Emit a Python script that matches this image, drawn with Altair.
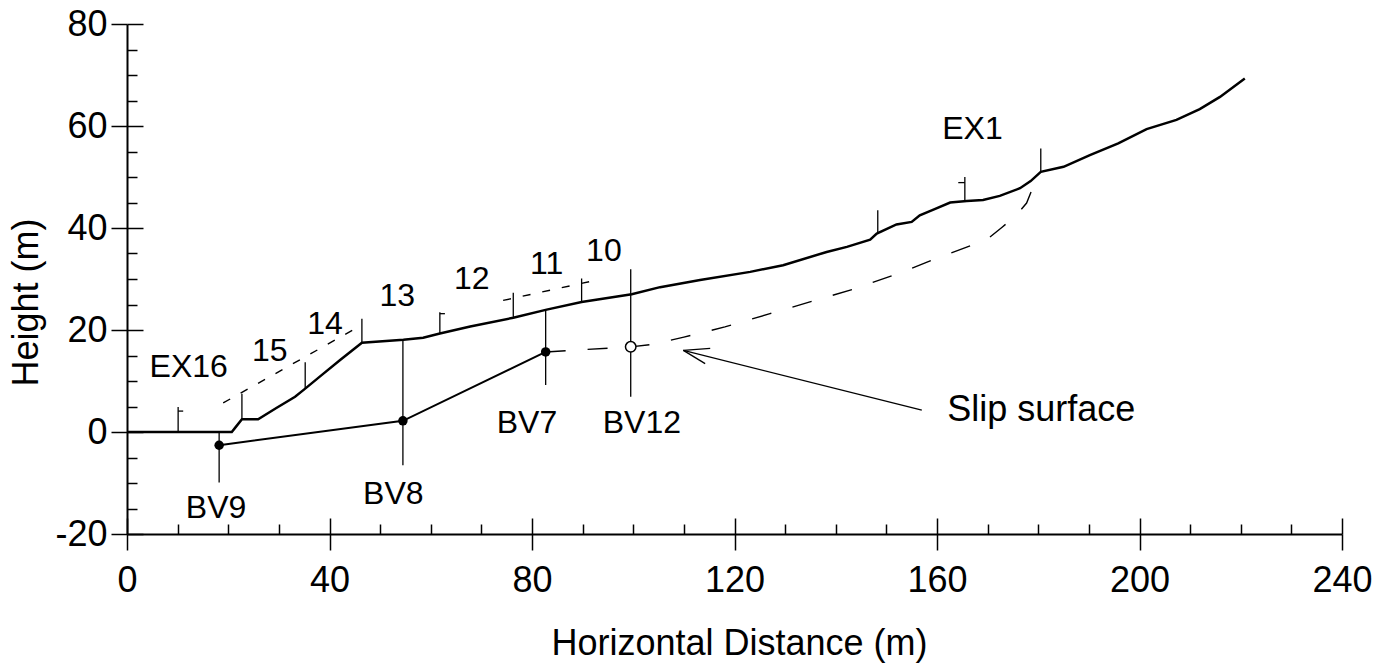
import altair as alt
import pandas as pd

FONT = "Liberation Sans"

# ---------------- data ----------------
ground_x = [0, 20.7, 21.5, 22.7, 25.9, 29.5, 33.2, 35.2, 38.5, 42.1, 46.4, 54.6, 58.5, 61.8,
            67.8, 76.3, 82.9, 89.8, 99.7, 105.3, 113.2, 123.1, 129.6, 138.2, 142.2, 146.8,
            148.1, 152.0, 155.0, 156.6, 159.3, 162.6, 165.9, 169.1, 172.4, 176.4, 178.5,
            180.5, 185.0, 190.2, 195.8, 201.4, 207.3, 211.9, 215.9, 220.8]
ground_y = [0, 0, 1.0, 2.5, 2.5, 4.7, 6.9, 8.5, 11.2, 14.1, 17.5, 18.1, 18.5, 19.3,
            20.7, 22.4, 24.0, 25.5, 27.0, 28.4, 29.8, 31.4, 32.7, 35.3, 36.3, 37.7,
            38.9, 40.7, 41.2, 42.5, 43.6, 45.0, 45.3, 45.5, 46.3, 47.8, 49.2,
            51.0, 52.0, 54.3, 56.6, 59.4, 61.2, 63.3, 65.7, 69.3]

orig_seg = ["a", "a", "b", "b"]
orig_x = [19.0, 45.7, 74.3, 92.8]
orig_y = [5.7, 20.6, 25.8, 29.8]

slip_x = [82.7, 99.5, 104.0, 110.0, 118.1, 127.0, 134.9, 143.8, 152.4, 160.6, 169.8,
          172.8, 175.5, 177.7, 179.0, 180.5]
slip_y = [15.7, 16.7, 17.2, 18.6, 20.6, 23.2, 25.5, 28.1, 31.1, 34.3, 37.7,
          40.1, 42.3, 44.9, 48.1, 51.0]

bv_x = [18.2, 54.5, 82.7]
bv_y = [-2.6, 2.2, 15.7]
bv12_x = [99.5]
bv12_y = [16.7]

vert_x = [10.1, 22.7, 35.2, 46.4, 61.8, 76.3, 89.8, 148.3, 165.5, 180.5, 18.2, 54.5, 82.7, 99.5]
vert_y1 = [0, 2.6, 8.5, 17.5, 19.3, 22.4, 25.5, 38.9, 45.3, 51.0, 0, 18.1, 24.0, 31.9]
vert_y2 = [4.9, 7.5, 13.7, 22.2, 23.5, 27.3, 30.1, 43.5, 50.0, 55.6, -9.9, -6.5, 9.2, 6.9]

flag_x1 = [10.1, 61.8, 164.2]
flag_x2 = [11.1, 62.8, 165.5]
flag_y = [4.1, 23.2, 48.9]

arrow_x1 = [157.0, 109.9, 109.9]
arrow_y1 = [4.3, 16.0, 16.0]
arrow_x2 = [109.9, 115.2, 114.2]
arrow_y2 = [16.0, 16.4, 13.4]

label_text = ["EX16", "15", "14", "13", "12", "11", "10", "EX1", "BV9", "BV8", "BV7", "BV12"]
label_x = [12.2, 28.2, 39.1, 53.4, 68.1, 82.9, 94.2, 167.0, 17.6, 52.6, 79.0, 101.7]
label_y = [12.8, 15.8, 21.1, 26.6, 30.0, 33.0, 35.5, 59.5, -14.9, -12.2, 1.8, 1.8]

note_text = ["Slip surface"]
note_x = [162.0]
note_y = [4.3]

x_major = [0, 40, 80, 120, 160, 200, 240]
x_minor = [10, 20, 30, 50, 60, 70, 90, 100, 110, 130, 140, 150, 170, 180, 190, 210, 220, 230]
y_major = [-20, 0, 20, 40, 60, 80]
y_minor = [-15, -10, -5, 5, 10, 15, 25, 30, 35, 45, 50, 55, 65, 70, 75]

# ---------------- scales & axes ----------------
xs = alt.Scale(domain=[0, 240], nice=False, zero=False)
ys = alt.Scale(domain=[-20, 80], nice=False, zero=False)

x_main_axis = alt.Axis(orient="bottom", values=x_major, tickSize=16, tickWidth=1.5,
                       tickColor="black", domainColor="black", domainWidth=2,
                       labelFont=FONT, labelFontSize=36, labelColor="black",
                       labelPadding=13, labelExpr="'' + datum.value", labelFlush=False,
                       labelOverlap=False, grid=False,
                       title="Horizontal Distance (m)", titleFont=FONT, titleFontSize=36,
                       titleFontWeight="normal", titleColor="black", titleX=612,
                       titleY=120, titleAlign="center", titleBaseline="alphabetic")
y_main_axis = alt.Axis(orient="left", values=y_major, tickSize=16, tickWidth=1.5,
                       tickColor="black", domainColor="black", domainWidth=2,
                       labelFont=FONT, labelFontSize=36, labelColor="black",
                       labelPadding=4, labelExpr="'' + datum.value", labelFlush=False,
                       labelOverlap=False, grid=False,
                       title="Height (m)", titleFont=FONT, titleFontSize=36,
                       titleFontWeight="normal", titleColor="black", titleX=-101,
                       titleY=278, titleAngle=270, titleAlign="center",
                       titleBaseline="middle")
x_in_axis = alt.Axis(orient="bottom", values=x_major, offset=-16, tickSize=16, tickWidth=1.5,
                     tickColor="black", domain=False, labels=False, grid=False, title="")
y_in_axis = alt.Axis(orient="left", values=y_major, offset=-16, tickSize=16, tickWidth=1.5,
                     tickColor="black", domain=False, labels=False, grid=False, title="")
x_minor_axis = alt.Axis(orient="bottom", values=x_minor, offset=-10, tickSize=10,
                        tickWidth=1.5, tickColor="black", domain=False, labels=False,
                        grid=False, title="")
y_minor_axis = alt.Axis(orient="left", values=y_minor, offset=-10, tickSize=10,
                        tickWidth=1.5, tickColor="black", domain=False, labels=False,
                        grid=False, title="")

# ---------------- tables ----------------
ground = pd.DataFrame({"x": ground_x, "y": ground_y, "i": range(len(ground_x))})
orig = pd.DataFrame({"x": orig_x, "y": orig_y, "seg": orig_seg, "i": range(len(orig_x))})
slip = pd.DataFrame({"x": slip_x, "y": slip_y, "i": range(len(slip_x))})
bv = pd.DataFrame({"x": bv_x, "y": bv_y, "i": range(len(bv_x))})
bv12 = pd.DataFrame({"x": bv12_x, "y": bv12_y})
vert = pd.DataFrame({"x": vert_x, "y": vert_y1, "y2": vert_y2})
flags = pd.DataFrame({"x": flag_x1, "x2": flag_x2, "y": flag_y})
arrow = pd.DataFrame({"x": arrow_x1, "y": arrow_y1, "x2": arrow_x2, "y2": arrow_y2})
labels = pd.DataFrame({"x": label_x, "y": label_y, "t": label_text})
note = pd.DataFrame({"x": note_x, "y": note_y, "t": note_text})


def X(axis=None):
    if axis is None:
        return alt.X("x:Q", scale=xs, axis=None)
    return alt.X("x:Q", scale=xs, axis=axis)


def Y(axis=None):
    if axis is None:
        return alt.Y("y:Q", scale=ys, axis=None)
    return alt.Y("y:Q", scale=ys, axis=axis)


ground_layer = alt.Chart(ground).mark_line(color="black", strokeWidth=2.5).encode(
    x=X(x_main_axis), y=Y(y_main_axis), order="i:Q")

orig_layer = alt.Chart(orig).mark_line(color="black", strokeWidth=1.4,
                                       strokeDash=[8, 12]).encode(
    x=X(x_in_axis), y=Y(y_in_axis), detail="seg:N", order="i:Q")

slip_layer = alt.Chart(slip).mark_line(color="black", strokeWidth=1.4,
                                       strokeDash=[20, 22]).encode(
    x=X(x_minor_axis), y=Y(y_minor_axis), order="i:Q")

bv_layer = alt.Chart(bv).mark_line(color="black", strokeWidth=2).encode(
    x=X(), y=Y(), order="i:Q")

vert_layer = alt.Chart(vert).mark_rule(color="black", strokeWidth=1.3).encode(
    x=X(), y=Y(), y2="y2:Q")

flag_layer = alt.Chart(flags).mark_rule(color="black", strokeWidth=1.3).encode(
    x=X(), x2="x2:Q", y=Y())

arrow_layer = alt.Chart(arrow).mark_rule(color="black", strokeWidth=1.3).encode(
    x=X(), y=Y(), x2="x2:Q", y2="y2:Q")

bv_pts = alt.Chart(bv).mark_point(filled=True, color="black", size=90, opacity=1).encode(
    x=X(), y=Y())

bv12_pt = alt.Chart(bv12).mark_point(shape="circle", filled=True, fill="white",
                                     stroke="black", strokeWidth=1.5, size=110,
                                     opacity=1).encode(x=X(), y=Y())

label_layer = alt.Chart(labels).mark_text(font=FONT, fontSize=32, color="black",
                                          align="center", baseline="middle").encode(
    x=X(), y=Y(), text="t:N")

note_layer = alt.Chart(note).mark_text(font=FONT, fontSize=36, color="black",
                                       align="left", baseline="middle").encode(
    x=X(), y=Y(), text="t:N")

chart = alt.layer(
    ground_layer, orig_layer, slip_layer, bv_layer, vert_layer, flag_layer, arrow_layer,
    bv_pts, bv12_pt, label_layer, note_layer
).resolve_scale(x="shared", y="shared").resolve_axis(
    x="independent", y="independent"
).properties(
    width=1215, height=510,
    padding={"left": 127, "top": 24, "right": 55, "bottom": 131},
    autosize="none", background="white"
).configure_view(stroke=None)

chart.save("out.html", embed_options={"renderer": "svg", "actions": False})
